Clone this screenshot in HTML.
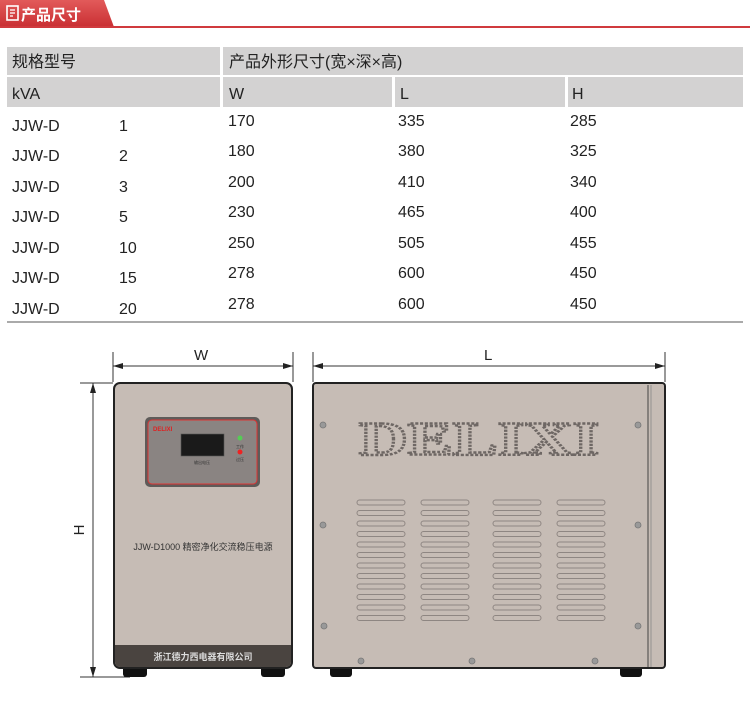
<!DOCTYPE html>
<html><head><meta charset="utf-8"><style>
body{margin:0;width:750px;height:701px;background:#fff;overflow:hidden;font-family:"Liberation Sans","Noto Sans CJK SC",sans-serif}
</style></head><body>
<svg width="750" height="701" viewBox="0 0 750 701" xmlns="http://www.w3.org/2000/svg" font-family="Liberation Sans, Noto Sans CJK SC, sans-serif">
<defs>
<linearGradient id="rg" x1="0" y1="0" x2="0" y2="1"><stop offset="0" stop-color="#e25a5a"/><stop offset="1" stop-color="#c92f33"/></linearGradient>
</defs>
<path d="M0 0 H104 L114 27 H0 Z" fill="url(#rg)"/>
<rect x="0" y="26" width="750" height="2" fill="#d03a3e"/>
<rect x="7" y="6" width="11" height="14" fill="none" stroke="#fff" stroke-width="1.6"/>
<line x1="10" y1="10" x2="15" y2="10" stroke="#fff" stroke-width="1.3"/>
<line x1="10" y1="13" x2="15" y2="13" stroke="#fff" stroke-width="1.3"/>
<line x1="10" y1="16" x2="13" y2="16" stroke="#fff" stroke-width="1.3"/>
<text x="21" y="20" font-size="15" font-weight="bold" fill="#fff">产品尺寸</text>
<g fill="#d3d2d2">
<rect x="7" y="47" width="213" height="28"/><rect x="223" y="47" width="520" height="28"/>
<rect x="7" y="77" width="213" height="30"/><rect x="223" y="77" width="169" height="30"/>
<rect x="395" y="77" width="170" height="30"/><rect x="568" y="77" width="175" height="30"/>
</g>
<g font-size="16" fill="#222">
<text x="12" y="67">规格型号</text><text x="229" y="67">产品外形尺寸(宽×深×高)</text>
<text x="12" y="99">kVA</text><text x="229" y="99">W</text><text x="400" y="99">L</text><text x="572" y="99">H</text>
</g>
<g font-size="16" fill="#222">
<text x="12" y="131">JJW-D</text><text x="119" y="131">1</text><text x="228" y="126">170</text><text x="398" y="126">335</text><text x="570" y="126">285</text>
<text x="12" y="161">JJW-D</text><text x="119" y="161">2</text><text x="228" y="156">180</text><text x="398" y="156">380</text><text x="570" y="156">325</text>
<text x="12" y="192">JJW-D</text><text x="119" y="192">3</text><text x="228" y="187">200</text><text x="398" y="187">410</text><text x="570" y="187">340</text>
<text x="12" y="222">JJW-D</text><text x="119" y="222">5</text><text x="228" y="217">230</text><text x="398" y="217">465</text><text x="570" y="217">400</text>
<text x="12" y="253">JJW-D</text><text x="119" y="253">10</text><text x="228" y="248">250</text><text x="398" y="248">505</text><text x="570" y="248">455</text>
<text x="12" y="283">JJW-D</text><text x="119" y="283">15</text><text x="228" y="278">278</text><text x="398" y="278">600</text><text x="570" y="278">450</text>
<text x="12" y="314">JJW-D</text><text x="119" y="314">20</text><text x="228" y="309">278</text><text x="398" y="309">600</text><text x="570" y="309">450</text>
</g>
<rect x="7" y="321" width="736" height="2" fill="#aaa"/>
<g stroke="#333" stroke-width="1" fill="none">
<line x1="113" y1="352" x2="113" y2="382"/><line x1="293" y1="352" x2="293" y2="382"/>
<line x1="113" y1="366" x2="293" y2="366"/>
<line x1="313" y1="352" x2="313" y2="382"/><line x1="665" y1="352" x2="665" y2="382"/>
<line x1="313" y1="366" x2="665" y2="366"/>
<line x1="80" y1="383" x2="113" y2="383"/><line x1="80" y1="677" x2="130" y2="677"/>
<line x1="93" y1="383" x2="93" y2="677"/>
</g>
<g fill="#222">
<path d="M113 366 l10 -3 v6z"/><path d="M293 366 l-10 -3 v6z"/>
<path d="M313 366 l10 -3 v6z"/><path d="M665 366 l-10 -3 v6z"/>
<path d="M93 383 l-3 10 h6z"/><path d="M93 677 l-3 -10 h6z"/>
</g>
<text x="194" y="360" font-size="15" fill="#222">W</text>
<text x="484" y="360" font-size="15" fill="#222">L</text>
<text transform="translate(84,530) rotate(-90)" font-size="15" fill="#222" text-anchor="middle">H</text>
<rect x="123" y="664" width="24" height="13" rx="3" fill="#111"/>
<rect x="261" y="664" width="24" height="13" rx="3" fill="#111"/>
<rect x="114" y="383" width="178" height="285" rx="6" fill="#c6bcb5" stroke="#222" stroke-width="2"/>
<path d="M115 645 H291 V662 a5 5 0 0 1 -5 5 H120 a5 5 0 0 1 -5 -5 Z" fill="#4a4440"/>
<text x="203" y="660" font-size="9" fill="#ddd" text-anchor="middle" font-weight="bold">浙江德力西电器有限公司</text>
<rect x="145" y="417" width="115" height="70" rx="5" fill="#5e5b59"/>
<rect x="148" y="420" width="109" height="64" rx="4" fill="#8a8482" stroke="#d33" stroke-width="1"/>
<text x="153" y="431" font-size="6" fill="#d22" font-weight="bold">DELIXI</text>
<rect x="181" y="434" width="43" height="22" fill="#1a1a1a" stroke="#555" stroke-width="0.6"/>
<text x="202" y="464" font-size="4" fill="#333" text-anchor="middle">输出电压</text>
<circle cx="240" cy="438" r="2.5" fill="#5c5"/><text x="240" y="448" font-size="4" fill="#333" text-anchor="middle">工作</text>
<circle cx="240" cy="452" r="2.5" fill="#e22"/><text x="240" y="461" font-size="4" fill="#333" text-anchor="middle">过压</text>
<text x="203" y="550" font-size="9" fill="#333" text-anchor="middle">JJW-D1000 精密净化交流稳压电源</text>
<rect x="330" y="666" width="22" height="11" rx="3" fill="#111"/>
<rect x="620" y="666" width="22" height="11" rx="3" fill="#111"/>
<rect x="313" y="383" width="352" height="285" rx="3" fill="#c6bcb5" stroke="#222" stroke-width="2"/>
<line x1="648" y1="385" x2="648" y2="667" stroke="#444" stroke-width="1"/>
<line x1="651" y1="385" x2="651" y2="667" stroke="#888" stroke-width="0.8"/>
<g fill="#999" stroke="#777" stroke-width="0.8">
<circle cx="323" cy="425" r="3"/><circle cx="323" cy="525" r="3"/><circle cx="324" cy="626" r="3"/>
<circle cx="638" cy="425" r="3"/><circle cx="638" cy="525" r="3"/><circle cx="638" cy="626" r="3"/>
<circle cx="361" cy="661" r="3"/><circle cx="472" cy="661" r="3"/><circle cx="595" cy="661" r="3"/>
</g>
<text x="479" y="455" font-size="48" font-family="Liberation Serif, serif" font-weight="bold" text-anchor="middle" fill="none" stroke="#6e6764" stroke-width="2.4" stroke-dasharray="2.2 1.2" textLength="240" lengthAdjust="spacingAndGlyphs">DELIXI</text>
<g fill="none" stroke="#8e8682" stroke-width="1">
<g id="col">
<rect x="357" y="500" width="48" height="5" rx="2.5"/><rect x="357" y="510.5" width="48" height="5" rx="2.5"/>
<rect x="357" y="521" width="48" height="5" rx="2.5"/><rect x="357" y="531.5" width="48" height="5" rx="2.5"/>
<rect x="357" y="542" width="48" height="5" rx="2.5"/><rect x="357" y="552.5" width="48" height="5" rx="2.5"/>
<rect x="357" y="563" width="48" height="5" rx="2.5"/><rect x="357" y="573.5" width="48" height="5" rx="2.5"/>
<rect x="357" y="584" width="48" height="5" rx="2.5"/><rect x="357" y="594.5" width="48" height="5" rx="2.5"/>
<rect x="357" y="605" width="48" height="5" rx="2.5"/><rect x="357" y="615.5" width="48" height="5" rx="2.5"/>
</g>
<use href="#col" x="64"/><use href="#col" x="136"/><use href="#col" x="200"/>
</g>
</svg>
</body></html>
